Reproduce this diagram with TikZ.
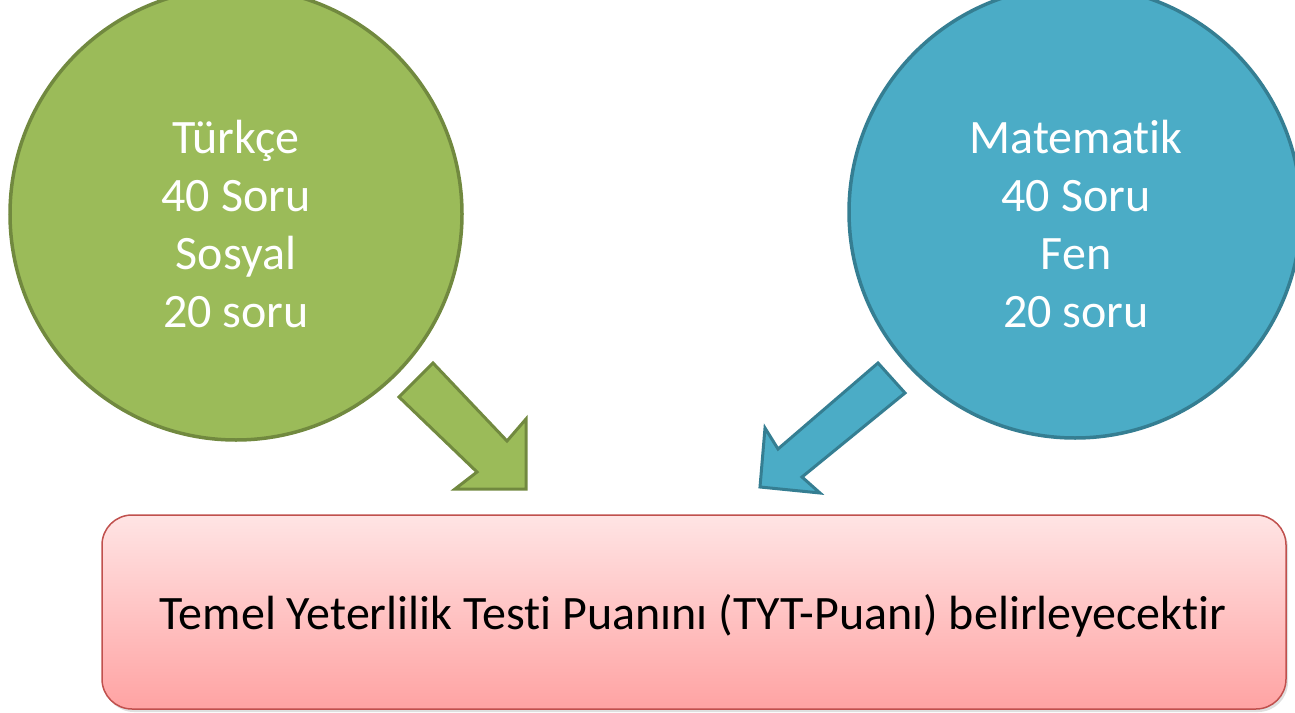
\documentclass[tikz,border=0pt]{standalone}
\usepackage{fontspec}
\setmainfont{Carlito}[Ligatures=NoCommon]
\usetikzlibrary{shadows}
\definecolor{gfill}{RGB}{155,187,89}
\definecolor{gline}{RGB}{113,137,63}
\definecolor{bfill}{RGB}{75,172,198}
\definecolor{bline}{RGB}{53,126,146}
\definecolor{rtop}{RGB}{255,228,228}
\definecolor{rbot}{RGB}{255,163,163}
\definecolor{rline}{RGB}{192,80,77}
\tikzset{
  topic/.style={circle, minimum size=452pt, line width=3.5pt, inner sep=0pt},
  topictext/.style={text=white, align=center, font=\fontsize{48}{58}\selectfont},
  blockarrow/.style={line width=3pt, line join=miter},
  resultbox/.style={rounded corners=30pt, minimum width=1184pt, minimum height=194pt,
    draw=rline, line width=1.5pt, top color=rtop, bottom color=rbot,
    drop shadow={opacity=0.25, shadow xshift=2pt, shadow yshift=-3pt}},
  resulttext/.style={font=\fontsize{48}{58}\selectfont}
}
\begin{document}
\begin{tikzpicture}[x=1pt,y=-1pt]
\useasboundingbox (0,0) rectangle (1295,712);
\node[topic, fill=gfill, draw=gline] (sozel) at (236,214) {};
\node[topictext] (sozeltext) at (236,224) {Türkçe\\40 Soru\\Sosyal\\20 soru};
\node[topic, fill=bfill, draw=bline] (sayisal) at (1075,212) {};
\node[topictext] (sayisaltext) at (1076,224) {Matematik\\40 Soru\\Fen\\20 soru};
\node[resultbox] (tyt) at (694,612) {};
\node[resulttext] (tyttext) at (693,616) {Temel Yeterlilik Testi Puanını (TYT-Puanı) belirleyecektir};
\draw[blockarrow, fill=gfill, draw=gline] (433,363) -- (507,441) -- (526,419) -- (526,489) -- (455,489) -- (477,472) -- (399,397) -- cycle;
\draw[blockarrow, fill=bfill, draw=bline] (878,363) -- (778,449) -- (765,428) -- (760,487) -- (820,493) -- (802,477) -- (905,393) -- cycle;
\end{tikzpicture}
\end{document}
